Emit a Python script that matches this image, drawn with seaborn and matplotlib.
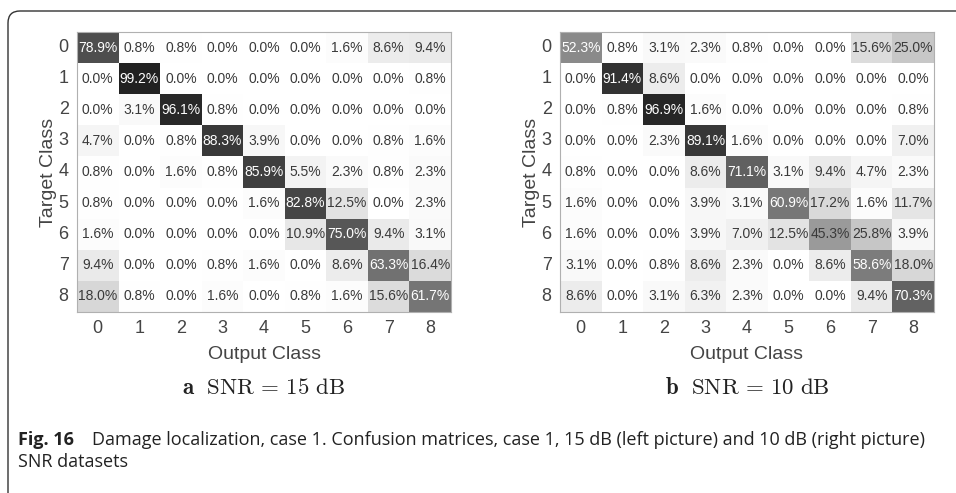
import numpy as np
import matplotlib
matplotlib.use("Agg")
import matplotlib.pyplot as plt
from matplotlib.patches import FancyBboxPatch
import seaborn as sns

# class labels (target rows / output columns)
classes = ["0", "1", "2", "3", "4", "5", "6", "7", "8"]

# confusion matrix, SNR = 15 dB (percent)
cm_15db = [
    [78.9, 0.8, 0.8, 0.0, 0.0, 0.0, 1.6, 8.6, 9.4],
    [0.0, 99.2, 0.0, 0.0, 0.0, 0.0, 0.0, 0.0, 0.8],
    [0.0, 3.1, 96.1, 0.8, 0.0, 0.0, 0.0, 0.0, 0.0],
    [4.7, 0.0, 0.8, 88.3, 3.9, 0.0, 0.0, 0.8, 1.6],
    [0.8, 0.0, 1.6, 0.8, 85.9, 5.5, 2.3, 0.8, 2.3],
    [0.8, 0.0, 0.0, 0.0, 1.6, 82.8, 12.5, 0.0, 2.3],
    [1.6, 0.0, 0.0, 0.0, 0.0, 10.9, 75.0, 9.4, 3.1],
    [9.4, 0.0, 0.0, 0.8, 1.6, 0.0, 8.6, 63.3, 16.4],
    [18.0, 0.8, 0.0, 1.6, 0.0, 0.8, 1.6, 15.6, 61.7],
]

# confusion matrix, SNR = 10 dB (percent)
cm_10db = [
    [52.3, 0.8, 3.1, 2.3, 0.8, 0.0, 0.0, 15.6, 25.0],
    [0.0, 91.4, 8.6, 0.0, 0.0, 0.0, 0.0, 0.0, 0.0],
    [0.0, 0.8, 96.9, 1.6, 0.0, 0.0, 0.0, 0.0, 0.8],
    [0.0, 0.0, 2.3, 89.1, 1.6, 0.0, 0.0, 0.0, 7.0],
    [0.8, 0.0, 0.0, 8.6, 71.1, 3.1, 9.4, 4.7, 2.3],
    [1.6, 0.0, 0.0, 3.9, 3.1, 60.9, 17.2, 1.6, 11.7],
    [1.6, 0.0, 0.0, 3.9, 7.0, 12.5, 45.3, 25.8, 3.9],
    [3.1, 0.0, 0.8, 8.6, 2.3, 0.0, 8.6, 58.6, 18.0],
    [8.6, 0.0, 3.1, 6.3, 2.3, 0.0, 0.0, 9.4, 70.3],
]

subtitles = [r"$\mathbf{a}\ \ \mathrm{SNR}\, =\, 15\ \mathrm{dB}$",
             r"$\mathbf{b}\ \ \mathrm{SNR}\, =\, 10\ \mathrm{dB}$"]
caption_bold = "Fig. 16"
caption_line1 = "Damage localization, case 1. Confusion matrices, case 1, 15 dB (left picture) and 10 dB (right picture)"
caption_line2 = "SNR datasets"

sns.set_theme(style="white")
plt.rcParams["font.family"] = ["Liberation Sans", "DejaVu Sans"]
plt.rcParams["mathtext.fontset"] = "cm"

W, H = 956, 493
fig = plt.figure(figsize=(W / 100, H / 100), dpi=100)

# frame around the figure (rounded top-left corner, open at right/bottom)
frame = FancyBboxPatch((0.08, -0.5), 10.0, (H - 11) / 100 + 0.5,
                       boxstyle="round,pad=0,rounding_size=0.12",
                       transform=fig.dpi_scale_trans, fill=False,
                       edgecolor="#333333", linewidth=1.0)
fig.patches.append(frame)

ax_left = fig.add_axes([77 / W, 1 - 312 / H, 374 / W, 280 / H])
ax_right = fig.add_axes([560 / W, 1 - 312 / H, 374 / W, 280 / H])

for ax, data, sub in [(ax_left, cm_15db, subtitles[0]), (ax_right, cm_10db, subtitles[1])]:
    arr = np.array(data)
    labels = np.array([[f"{v:.1f}%" for v in row] for row in arr])
    sns.heatmap(arr, ax=ax, cmap="gray_r", vmin=0, vmax=114, cbar=False,
                annot=labels, fmt="", annot_kws={"size": 10},
                xticklabels=classes, yticklabels=classes)
    for t, v in zip(ax.texts, arr.flatten()):
        t.set_color("white" if v > 50 else "#3a3a3a")
    for s in ax.spines.values():
        s.set_visible(True)
        s.set_color("#b0b0b0")
        s.set_linewidth(0.8)
    ax.tick_params(length=0, labelsize=13, colors="#444444", pad=6)
    ax.tick_params(axis="y", rotation=0)
    ax.set_xlabel("Output Class", fontsize=14, color="#444444", labelpad=6)
    ax.set_ylabel("Target Class", fontsize=14, color="#444444", labelpad=1)
    pos = ax.get_position()
    fig.text(pos.x0 + pos.width / 2, 1 - 388 / H, sub, ha="center", va="center",
             fontsize=16.5, color="#222222")

# caption
cap_font = ["Open Sans", "DejaVu Sans"]
fig.text(18 / W, 1 - 440 / H, caption_bold, ha="left", va="center",
         fontsize=13, fontweight="bold", family=cap_font, color="#222222")
fig.text(92 / W, 1 - 440 / H, caption_line1, ha="left", va="center",
         fontsize=13, family=cap_font, color="#222222")
fig.text(18 / W, 1 - 462 / H, caption_line2, ha="left", va="center",
         fontsize=13, family=cap_font, color="#222222")

fig.savefig("out.png", dpi=100)
